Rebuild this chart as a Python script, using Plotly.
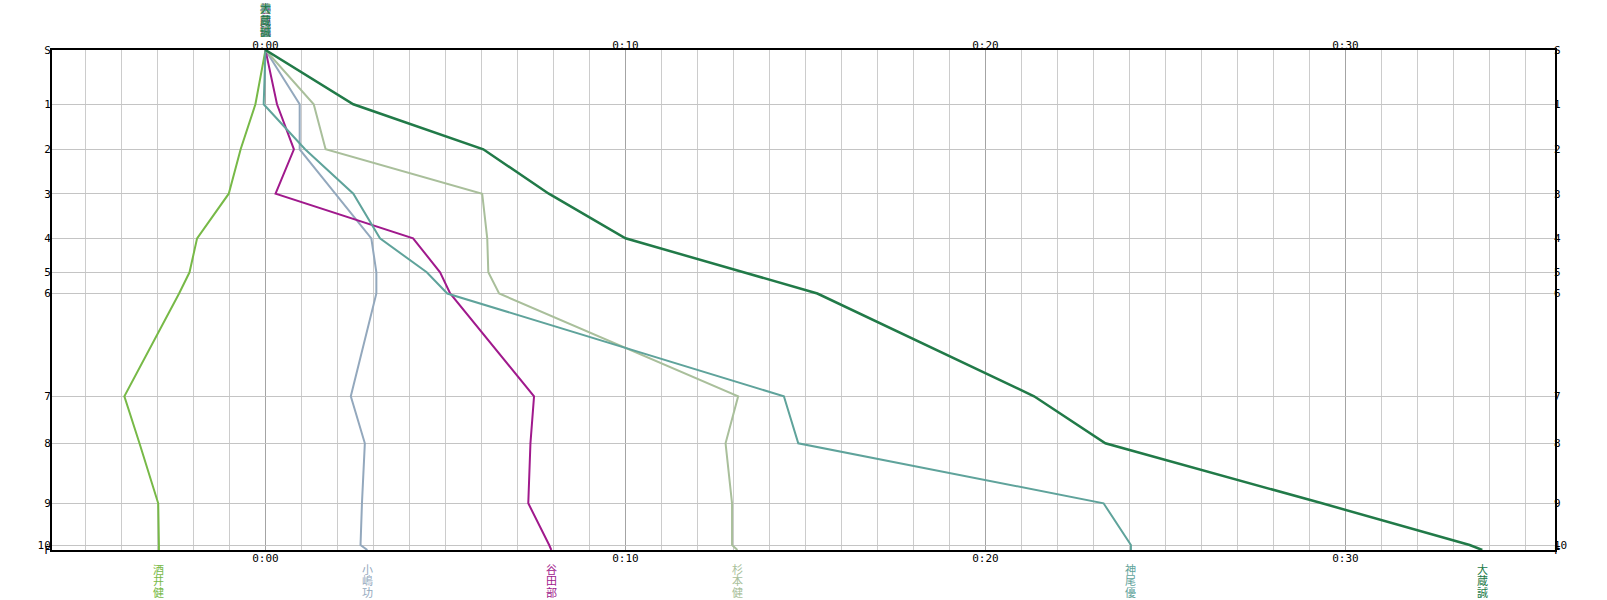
import plotly.graph_objects as go

# Controls (y axis) and their reference positions (relative ideal cumulative time, F = 500)
controls = ["S", "1", "2", "3", "4", "5", "6", "7", "8", "9", "10", "F"]
control_ref = [0, 54.3, 99.3, 143.7, 188.3, 222.3, 243.5, 346.3, 393.3, 453.3, 495, 500]

# Time behind the reference at each control (minutes)
runners = ["酒井健", "小嶋功", "谷田部", "杉本健", "神尾優", "大蔵誠"]
sakai = [0, -0.28, -0.69, -1.02, -1.9, -2.11, -2.4, -3.92, -3.5, -2.98, -2.96, -2.96]
kojima = [0, 0.95, 0.95, 1.94, 2.94, 3.08, 3.08, 2.37, 2.76, 2.68, 2.64, 2.83]
yatabe = [0, 0.32, 0.79, 0.28, 4.1, 4.85, 5.13, 7.46, 7.36, 7.3, 7.88, 7.94]
sugimoto = [0, 1.34, 1.67, 6.02, 6.16, 6.19, 6.49, 13.13, 12.78, 12.96, 12.96, 13.11]
kamio = [0, -0.05, 1.1, 2.44, 3.18, 4.48, 5.05, 14.4, 14.8, 23.28, 24.04, 24.04]
okura = [0, 2.44, 6.05, 7.87, 10.0, 13.27, 15.33, 21.35, 23.33, 29.35, 33.45, 33.8]
series = [sakai, kojima, yatabe, sugimoto, kamio, okura]
colors = ["#77b947", "#93a8bd", "#a0198c", "#a9bf9b", "#5fa39b", "#217a48"]
widths = [2, 2, 2, 2, 2, 2.5]

time_ticks = [0, 10, 20, 30]
time_labels = ["0:00", "0:10", "0:20", "0:30"]
x_range = [-5.93, 35.82]

fig = go.Figure()
for name, vals, col, w in zip(runners, series, colors, widths):
    fig.add_trace(go.Scatter(x=vals, y=control_ref, mode="lines", name=name,
                             line=dict(color=col, width=w), hoverinfo="name+x"))
# invisible trace to activate the secondary (top / right) axes
fig.add_trace(go.Scatter(x=[0], y=[0], xaxis="x2", yaxis="y2", mode="markers",
                         marker=dict(opacity=0), showlegend=False, hoverinfo="skip"))

mono = dict(family="DejaVu Sans Mono", size=11, color="black")
fig.update_layout(
    width=1607, height=600,
    margin=dict(l=52, r=52, t=50, b=50),
    paper_bgcolor="white", plot_bgcolor="white",
    showlegend=False,
    xaxis=dict(range=x_range, tickmode="array", tickvals=time_ticks, ticktext=time_labels,
               showgrid=True, gridcolor="#a4a4a4", gridwidth=1, zeroline=False,
               minor=dict(tickmode="linear", tick0=0, dtick=1, showgrid=True,
                          gridcolor="#cccccc", gridwidth=1),
               showline=True, linecolor="black", linewidth=2, mirror=True,
               ticks="", tickfont=mono, ticklabelstandoff=-3),
    xaxis2=dict(range=x_range, overlaying="x", side="top", tickmode="array",
                tickvals=time_ticks, ticktext=time_labels, showgrid=False,
                zeroline=False, ticks="", tickfont=mono, showline=False,
                ticklabelstandoff=-2),
    yaxis=dict(range=[500, 0], tickmode="array", tickvals=control_ref, ticktext=controls,
               showgrid=True, gridcolor="#c4c4c4", gridwidth=1, zeroline=False,
               showline=True, linecolor="black", linewidth=2, mirror=True,
               ticks="", tickfont=mono, ticklabelstandoff=-3),
    yaxis2=dict(range=[500, 0], overlaying="y", side="right", tickmode="array",
                tickvals=control_ref, ticktext=controls, showgrid=False,
                zeroline=False, ticks="", tickfont=mono, showline=False,
                ticklabelstandoff=-2),
)

cjk = "Noto Sans CJK JP"
char_step = 11.5  # px per character
# vertical name labels at the finish (bottom) and start (top)
for name, vals, col in zip(runners, series, colors):
    for i, ch in enumerate(name):
        fig.add_annotation(x=vals[-1], xref="x", y=-(18.5 + i * char_step) / 500, yref="paper",
                           text=ch, showarrow=False, font=dict(family=cjk, size=11, color=col),
                           xanchor="center", yanchor="middle", borderpad=0)
        fig.add_annotation(x=vals[0], xref="x", y=1 + (42 - i * char_step) / 500, yref="paper",
                           text=ch, showarrow=False, font=dict(family=cjk, size=11, color=col),
                           xanchor="center", yanchor="middle", borderpad=0)

fig.write_html(
    "out.html",
    config={"displayModeBar": False},
    post_script="document.documentElement.style.overflow='hidden';"
                "document.body.style.margin='0';document.body.style.overflow='hidden';",
)
